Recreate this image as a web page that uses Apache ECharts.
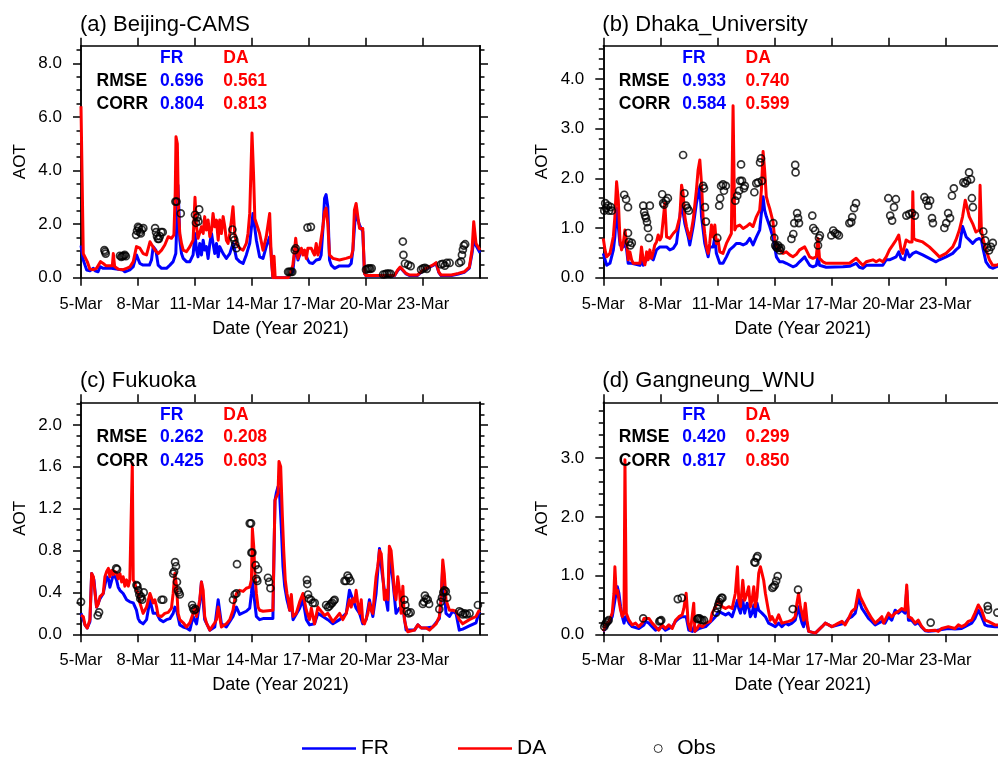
<!DOCTYPE html>
<html>
<head>
<meta charset="utf-8">
<script src="https://cdn.jsdelivr.net/npm/echarts@6/dist/echarts.min.js"></script>
<style>
html, body { margin: 0; padding: 0; background: #fff; }
#chart-container { width: 998px; height: 757px; }
</style>
</head>
<body>
<div id="chart-container"></div>
<script>
// x軸: 5-Mar 00Z 起算的天數
var dateTicks = [0, 3, 6, 9, 12, 15, 18];
var dateLabels = ['5-Mar', '8-Mar', '11-Mar', '14-Mar', '17-Mar', '20-Mar', '23-Mar'];

// 各站標題與統計值
var panelTitles = ['(a) Beijing-CAMS', '(b) Dhaka_University', '(c) Fukuoka', '(d) Gangneung_WNU'];
var rmseFR = ['0.696', '0.933', '0.262', '0.420'];
var rmseDA = ['0.561', '0.740', '0.208', '0.299'];
var corrFR = ['0.804', '0.584', '0.425', '0.817'];
var corrDA = ['0.813', '0.599', '0.603', '0.850'];

// y軸刻度
var yMaxList = [8.66, 4.67, 2.216, 3.95];
var yMajorA = [0, 2, 4, 6, 8];
var yMajorB = [0, 1, 2, 3, 4];
var yMajorC = [0, 0.4, 0.8, 1.2, 1.6, 2.0];
var yMajorD = [0, 1, 2, 3];
var yMinorStep = [0.5, 0.2, 0.1, 0.2];

// (a) Beijing-CAMS  [day, AOT]
var beijingDA = [[0,6.4],[0.12,0.9],[0.21,0.85],[0.33,0.6],[0.47,0.32],[0.65,0.3],[0.82,0.35],[0.91,0.41],[1.03,0.6],[1.17,0.53],[1.31,0.45],[1.52,0.45],[1.65,0.45],[1.7,0.9],[1.77,0.42],[1.96,0.32],[2.22,0.3],[2.4,0.35],[2.57,0.4],[2.75,0.6],[2.92,1.16],[3.1,1.1],[3.27,0.9],[3.45,0.85],[3.63,1.34],[3.71,1.4],[3.89,1.03],[4.06,0.9],[4.24,1.03],[4.41,1.22],[4.59,1.53],[4.76,1.47],[4.89,1.6],[4.96,3.2],[5.0,5.26],[5.07,5.0],[5.13,2.5],[5.2,1.65],[5.29,1.28],[5.38,1.03],[5.55,0.97],[5.73,1.16],[5.9,1.4],[6.0,3.0],[6.08,1.9],[6.16,1.47],[6.25,1.4],[6.34,1.9],[6.43,1.65],[6.51,2.28],[6.6,1.78],[6.69,2.15],[6.78,1.53],[6.87,1.78],[6.95,2.4],[7.04,1.9],[7.13,2.15],[7.22,1.4],[7.3,2.15],[7.39,1.65],[7.48,2.28],[7.57,1.9],[7.65,1.4],[7.74,1.28],[7.83,1.65],[7.92,2.15],[8.0,2.65],[8.09,1.65],[8.18,1.28],[8.35,1.1],[8.53,1.03],[8.7,1.28],[8.79,1.65],[8.88,2.4],[9.0,5.4],[9.08,3.9],[9.15,2.2],[9.4,1.65],[9.58,1.03],[9.75,1.53],[9.93,2.4],[10.02,0.66],[10.1,0],[10.16,0.8],[10.22,0],[10.9,0],[10.98,0.1],[11.15,0.47],[11.24,1.03],[11.3,1.47],[11.42,0.72],[11.5,0.9],[11.6,1.1],[11.68,0.85],[11.77,1.03],[11.86,0.72],[11.94,1.1],[12.03,1.03],[12.12,1.1],[12.2,0.97],[12.29,0.85],[12.38,1.28],[12.47,0.85],[12.56,1.1],[12.64,1.03],[12.73,1.9],[12.82,2.46],[12.9,2.6],[12.99,2.0],[13.08,0.85],[13.17,0.78],[13.26,0.72],[13.6,0.66],[13.95,0.72],[14.22,0.78],[14.31,1.03],[14.39,2.52],[14.48,2.77],[14.57,2.28],[14.66,1.84],[14.74,1.78],[14.83,1.84],[14.92,0.16],[15.0,0.08],[16.5,0.08],[16.67,0.29],[16.8,0.4],[16.94,0.29],[17.11,0.16],[17.3,0.1],[17.7,0.1],[17.9,0.22],[18.16,0.35],[18.51,0.47],[18.69,0.56],[18.83,0.22],[18.95,0.1],[19.5,0.1],[19.86,0.16],[20.17,0.22],[20.44,0.4],[20.58,1.03],[20.67,2.09],[20.79,1.28],[21,1.03]];
var beijingFR = [[0,1.2],[0.12,0.66],[0.21,0.47],[0.3,0.29],[0.47,0.26],[0.56,0.22],[0.65,0.35],[0.74,0.26],[0.9,0.22],[1.0,0.41],[1.17,0.35],[1.6,0.35],[1.7,0.29],[2.2,0.29],[2.31,0.22],[2.57,0.29],[2.75,0.41],[2.92,0.85],[3.1,0.53],[3.27,0.47],[3.6,0.47],[3.71,0.66],[3.8,1.16],[3.94,1.03],[4.06,0.47],[4.24,0.35],[4.5,0.35],[4.68,0.47],[4.85,0.6],[4.99,0.9],[5.05,2.2],[5.1,3.46],[5.15,2.6],[5.2,1.4],[5.29,0.9],[5.38,0.72],[5.55,0.6],[5.73,0.6],[5.9,0.85],[6.0,1.65],[6.08,1.03],[6.16,0.78],[6.25,1.28],[6.34,0.85],[6.43,1.4],[6.51,1.03],[6.6,1.16],[6.69,0.72],[6.78,1.28],[6.87,1.65],[6.95,1.28],[7.04,0.9],[7.13,1.28],[7.22,0.78],[7.3,1.16],[7.48,0.9],[7.65,0.72],[7.83,0.9],[8.0,1.28],[8.09,1.03],[8.18,0.72],[8.35,0.6],[8.53,0.53],[8.7,0.85],[8.88,1.28],[9.05,2.4],[9.14,1.9],[9.23,1.4],[9.4,0.78],[9.58,0.72],[9.75,1.16],[9.93,1.53],[10.02,0.78],[10.1,0],[10.9,0],[10.98,0.1],[11.15,0.22],[11.24,0.9],[11.3,1.15],[11.42,0.66],[11.5,0.6],[11.6,1.03],[11.68,1.1],[11.77,0.97],[11.86,0.9],[11.94,0.66],[12.03,0.56],[12.2,0.53],[12.38,0.66],[12.56,0.69],[12.64,0.85],[12.73,1.78],[12.82,2.96],[12.9,3.1],[12.99,2.65],[13.08,0.66],[13.17,0.47],[13.35,0.35],[13.6,0.44],[14.1,0.44],[14.22,0.53],[14.31,1.03],[14.45,2.46],[14.57,2.15],[14.66,1.96],[14.74,1.96],[14.83,1.72],[14.92,0.16],[15.0,0.07],[16.5,0.07],[16.67,0.27],[16.8,0.37],[16.94,0.27],[17.11,0.14],[17.3,0.08],[17.7,0.08],[17.9,0.2],[18.16,0.33],[18.51,0.45],[18.69,0.53],[18.83,0.2],[18.95,0.08],[19.5,0.08],[19.86,0.14],[20.17,0.2],[20.44,0.36],[20.58,0.9],[20.67,1.4],[20.79,1.2],[21,0.93]];
var beijingObs = [[1.23,1.03],[1.27,0.97],[1.3,0.9],[2.05,0.82],[2.12,0.78],[2.18,0.8],[2.24,0.82],[2.3,0.85],[2.36,0.8],[2.9,1.6],[2.95,1.75],[3.0,1.9],[3.05,1.85],[3.1,1.7],[3.15,1.65],[3.2,1.8],[3.28,1.85],[3.9,1.85],[3.95,1.7],[4.0,1.55],[4.05,1.45],[4.1,1.45],[4.15,1.55],[4.22,1.7],[4.3,1.7],[4.97,2.84],[5.03,2.84],[5.25,2.4],[6.0,2.35],[6.05,2.05],[6.12,2.25],[6.18,2.1],[6.22,2.55],[7.97,1.8],[8.02,1.5],[8.07,1.4],[8.12,1.25],[8.18,1.1],[10.9,0.22],[10.97,0.22],[11.05,0.22],[11.12,0.22],[11.25,1.03],[11.3,1.1],[11.92,1.87],[12.1,1.9],[15.0,0.3],[15.08,0.33],[15.15,0.35],[15.22,0.33],[15.3,0.35],[15.9,0.12],[16.0,0.13],[16.1,0.15],[16.2,0.15],[16.3,0.14],[16.94,1.35],[16.97,0.85],[17.05,0.53],[17.22,0.48],[17.35,0.43],[17.9,0.3],[18.0,0.35],[18.1,0.37],[18.2,0.33],[18.95,0.5],[19.05,0.52],[19.15,0.45],[19.25,0.55],[19.4,0.55],[19.9,0.55],[20.0,0.6],[20.05,0.85],[20.1,1.05],[20.15,1.2],[20.22,1.25]];

// (b) Dhaka_University
var dhakaDA = [[0,0.79],[0.09,0.56],[0.18,0.42],[0.35,0.49],[0.53,0.83],[0.61,1.23],[0.7,1.93],[0.79,1.56],[0.88,0.76],[0.96,0.56],[1.05,0.69],[1.14,0.96],[1.23,0.69],[1.31,0.36],[1.4,0.52],[1.49,0.36],[1.58,0.29],[1.93,0.29],[2.01,0.62],[2.1,0.36],[2.19,0.26],[2.28,0.52],[2.36,0.36],[2.45,0.56],[2.54,0.39],[2.63,0.52],[2.71,0.66],[2.8,0.72],[2.89,0.86],[2.98,0.76],[3.06,0.82],[3.15,0.82],[3.24,1.5],[3.33,0.82],[3.5,0.79],[3.68,0.89],[3.85,0.96],[4.03,1.23],[4.12,1.86],[4.2,1.7],[4.29,1.23],[4.38,1.03],[4.47,0.89],[4.55,0.79],[4.64,0.96],[4.73,1.16],[4.9,1.76],[4.99,2.17],[5.08,2.37],[5.17,1.89],[5.25,1.23],[5.34,0.89],[5.43,0.62],[5.52,0.49],[5.6,0.69],[5.69,1.06],[5.78,0.82],[5.87,1.06],[5.95,0.69],[6.04,0.76],[6.13,0.52],[6.3,0.49],[6.48,0.69],[6.65,0.82],[6.74,0.89],[6.83,3.46],[6.92,0.96],[7.0,1.03],[7.18,1.06],[7.36,0.99],[7.53,1.03],[7.71,1.09],[7.88,1.03],[8.06,1.23],[8.23,1.36],[8.32,1.76],[8.41,2.54],[8.49,2.17],[8.58,1.63],[8.67,1.5],[8.76,1.39],[8.93,1.13],[9.02,0.79],[9.11,0.62],[9.28,0.56],[9.46,0.49],[9.63,0.52],[9.81,0.46],[9.98,0.42],[10.16,0.47],[10.33,0.56],[10.6,0.62],[10.68,0.56],[10.86,0.42],[11.03,0.39],[11.21,0.42],[11.3,0.79],[11.38,0.39],[11.56,0.32],[11.73,0.29],[12.26,0.29],[12.61,0.29],[12.96,0.29],[13.13,0.34],[13.31,0.39],[13.48,0.32],[13.66,0.25],[13.84,0.32],[14.19,0.36],[14.36,0.32],[14.54,0.36],[14.71,0.32],[14.89,0.42],[15.06,0.56],[15.24,0.66],[15.41,0.76],[15.55,0.86],[15.67,0.56],[15.76,0.49],[15.94,0.76],[16.11,0.72],[16.25,0.72],[16.29,1.73],[16.34,0.79],[16.46,0.76],[16.81,0.72],[17.16,0.62],[17.51,0.49],[17.69,0.42],[18.04,0.49],[18.39,0.62],[18.56,0.76],[18.74,0.96],[18.91,1.23],[19.05,1.56],[19.18,1.36],[19.26,1.23],[19.44,1.09],[19.61,0.92],[19.7,0.96],[19.79,0.96],[19.83,1.86],[19.9,0.96],[19.96,0.82],[20.14,0.56],[20.32,0.36],[20.49,0.25],[20.67,0.25],[21,0.3]];
var dhakaFR = [[0,0.49],[0.09,0.36],[0.18,0.25],[0.35,0.29],[0.53,0.56],[0.61,0.83],[0.7,1.4],[0.79,1.03],[0.88,0.66],[1.05,0.62],[1.14,0.76],[1.23,0.56],[1.31,0.29],[1.49,0.29],[1.58,0.25],[1.93,0.25],[2.01,0.49],[2.1,0.25],[2.28,0.36],[2.45,0.42],[2.63,0.36],[2.8,0.56],[2.98,0.62],[3.15,0.62],[3.33,0.62],[3.5,0.56],[3.68,0.59],[3.85,0.69],[4.03,1.23],[4.12,1.53],[4.2,1.5],[4.29,1.09],[4.47,0.82],[4.55,0.66],[4.73,1.03],[4.9,1.5],[5.08,1.83],[5.17,1.23],[5.34,0.69],[5.52,0.42],[5.6,0.62],[5.78,0.62],[5.87,0.82],[5.95,0.49],[6.13,0.29],[6.3,0.29],[6.48,0.42],[6.65,0.56],[6.83,0.62],[7.0,0.69],[7.18,0.69],[7.36,0.66],[7.53,0.69],[7.71,0.79],[7.88,0.66],[8.06,0.82],[8.23,0.96],[8.41,1.63],[8.49,1.36],[8.58,1.23],[8.76,1.03],[8.93,0.82],[9.11,0.42],[9.28,0.32],[9.46,0.32],[9.63,0.29],[9.98,0.22],[10.16,0.25],[10.33,0.32],[10.6,0.42],[10.68,0.36],[10.86,0.25],[11.03,0.22],[11.21,0.25],[11.3,0.42],[11.38,0.25],[11.73,0.21],[12.61,0.22],[12.96,0.23],[13.31,0.29],[13.48,0.21],[13.66,0.19],[13.84,0.25],[14.19,0.25],[14.54,0.25],[14.71,0.25],[14.89,0.36],[15.06,0.36],[15.24,0.39],[15.41,0.42],[15.55,0.52],[15.67,0.39],[15.85,0.36],[15.97,0.56],[16.11,0.42],[16.29,0.49],[16.46,0.52],[16.81,0.46],[17.16,0.39],[17.51,0.32],[17.69,0.36],[18.04,0.42],[18.39,0.49],[18.56,0.56],[18.74,0.62],[18.91,1.03],[19.0,1.0],[19.1,0.82],[19.26,0.76],[19.44,0.69],[19.61,0.76],[19.79,0.79],[19.9,0.76],[20.0,0.56],[20.14,0.32],[20.32,0.22],[20.49,0.19],[20.67,0.22],[21,0.25]];
var dhakaObs = [[0.05,1.35],[0.1,1.5],[0.15,1.4],[0.25,1.45],[0.3,1.35],[0.4,1.42],[0.45,1.35],[1.1,1.67],[1.2,1.58],[1.3,1.42],[1.3,0.9],[1.35,0.72],[1.42,0.65],[1.5,0.7],[2.1,1.45],[2.15,1.32],[2.2,1.25],[2.25,1.2],[2.3,1.12],[2.35,1.0],[2.4,0.8],[2.45,1.45],[3.1,1.68],[3.15,1.5],[3.2,1.47],[3.3,1.55],[3.4,1.6],[4.2,2.47],[4.27,1.7],[4.35,1.45],[4.42,1.4],[4.5,1.35],[5.25,1.85],[5.3,1.8],[5.35,1.42],[5.4,1.13],[6.0,0.8],[6.1,1.45],[6.15,1.6],[6.2,1.85],[6.3,1.88],[6.35,1.75],[6.45,1.85],[6.95,1.55],[7.05,1.65],[7.15,1.75],[7.2,1.95],[7.25,2.28],[7.3,1.95],[7.4,1.8],[7.45,1.85],[7.95,1.72],[8.05,1.9],[8.15,1.92],[8.25,2.32],[8.3,2.4],[8.35,1.95],[8.95,1.1],[9.0,0.8],[9.05,0.65],[9.1,0.62],[9.15,0.6],[9.2,0.65],[9.25,0.6],[9.3,0.55],[9.35,0.6],[9.9,0.78],[10.0,0.88],[10.05,1.1],[10.1,2.27],[10.12,2.12],[10.2,1.3],[10.25,1.2],[10.3,1.1],[11.0,1.25],[11.05,1.0],[11.15,0.95],[11.3,0.65],[11.35,0.8],[11.4,0.85],[12.0,0.85],[12.1,0.95],[12.2,0.9],[12.3,0.88],[12.4,0.85],[12.95,1.1],[13.05,1.12],[13.1,1.22],[13.2,1.4],[13.3,1.5],[15.0,1.6],[15.1,1.25],[15.2,1.15],[15.3,1.42],[15.4,1.58],[15.95,1.25],[16.1,1.28],[16.25,1.3],[16.4,1.25],[16.9,1.62],[17.0,1.55],[17.1,1.45],[17.2,1.55],[17.3,1.2],[17.35,1.1],[17.95,1.0],[18.05,1.1],[18.15,1.3],[18.25,1.2],[18.35,1.65],[18.45,1.8],[18.95,1.92],[19.05,1.9],[19.15,1.95],[19.25,2.12],[19.35,1.98],[19.4,1.6],[19.45,1.42],[20.0,0.93],[20.1,0.75],[20.2,0.6],[20.3,0.55],[20.4,0.62],[20.5,0.7]];

// (c) Fukuoka
var fukuokaDA = [[0,0.18],[0.12,0.17],[0.21,0.09],[0.33,0.06],[0.47,0.14],[0.56,0.58],[0.65,0.55],[0.74,0.39],[0.82,0.26],[0.91,0.29],[1.0,0.36],[1.17,0.39],[1.26,0.55],[1.35,0.6],[1.44,0.63],[1.52,0.55],[1.61,0.61],[1.7,0.57],[1.79,0.6],[1.87,0.58],[1.96,0.53],[2.05,0.58],[2.14,0.5],[2.22,0.55],[2.31,0.46],[2.4,0.52],[2.49,0.46],[2.57,0.52],[2.7,1.63],[2.75,0.52],[2.84,0.49],[2.92,0.42],[3.01,0.39],[3.1,0.3],[3.27,0.2],[3.45,0.26],[3.63,0.39],[3.71,0.39],[3.8,0.3],[3.89,0.33],[3.98,0.26],[4.06,0.18],[4.24,0.17],[4.41,0.2],[4.59,0.21],[4.76,0.25],[4.85,0.39],[4.94,0.58],[5.03,0.46],[5.11,0.2],[5.2,0.14],[5.38,0.11],[5.55,0.07],[5.73,0.11],[5.9,0.2],[5.99,0.25],[6.08,0.17],[6.25,0.33],[6.34,0.5],[6.43,0.42],[6.51,0.17],[6.6,0.11],[6.78,0.04],[6.87,0.025],[7.04,0.11],[7.13,0.14],[7.22,0.26],[7.3,0.17],[7.39,0.07],[7.65,0.1],[7.83,0.14],[8.0,0.23],[8.09,0.33],[8.18,0.39],[8.35,0.42],[8.53,0.41],[8.7,0.44],[8.88,0.45],[8.97,0.52],[9.02,1.01],[9.09,0.84],[9.16,0.55],[9.23,0.39],[9.32,0.26],[9.4,0.23],[9.58,0.22],[10.1,0.23],[10.16,0.8],[10.21,1.28],[10.28,1.28],[10.37,1.35],[10.42,1.65],[10.51,1.6],[10.6,1.12],[10.67,0.8],[10.75,0.52],[10.84,0.39],[10.91,0.33],[10.98,0.23],[11.07,0.38],[11.16,0.17],[11.33,0.2],[11.51,0.31],[11.68,0.39],[11.86,0.23],[12.03,0.14],[12.12,0.25],[12.29,0.1],[12.47,0.26],[12.64,0.22],[12.82,0.18],[12.99,0.2],[13.26,0.12],[13.61,0.2],[13.78,0.14],[13.96,0.2],[14.13,0.33],[14.22,0.26],[14.31,0.34],[14.4,0.31],[14.48,0.42],[14.57,0.29],[14.66,0.2],[14.75,0.33],[14.83,0.12],[14.92,0.1],[15.1,0.2],[15.18,0.3],[15.27,0.23],[15.36,0.2],[15.45,0.39],[15.53,0.55],[15.62,0.65],[15.71,0.8],[15.8,0.77],[15.88,0.58],[15.97,0.33],[16.06,0.42],[16.15,0.33],[16.23,0.84],[16.32,0.8],[16.41,0.61],[16.5,0.39],[16.58,0.33],[16.67,0.55],[16.76,0.42],[16.85,0.2],[16.94,0.46],[17.02,0.14],[17.11,0.07],[17.2,0.025],[17.55,0.04],[17.73,0.09],[17.91,0.06],[18.17,0.06],[18.34,0.04],[18.51,0.07],[18.69,0.1],[18.86,0.17],[18.95,0.33],[19.04,0.71],[19.12,0.58],[19.21,0.33],[19.39,0.23],[19.56,0.23],[19.74,0.22],[19.91,0.14],[20.09,0.1],[20.44,0.14],[20.79,0.17],[20.93,0.22],[21,0.23]];
var fukuokaFR = [[0,0.2],[0.21,0.09],[0.33,0.06],[0.47,0.12],[0.56,0.58],[0.68,0.52],[0.82,0.26],[1.0,0.34],[1.17,0.39],[1.35,0.55],[1.44,0.53],[1.52,0.45],[1.7,0.57],[1.79,0.55],[1.87,0.52],[1.96,0.45],[2.05,0.42],[2.22,0.39],[2.4,0.33],[2.57,0.31],[2.75,0.3],[2.92,0.23],[3.01,0.15],[3.1,0.12],[3.27,0.1],[3.45,0.14],[3.63,0.33],[3.8,0.2],[3.98,0.2],[4.15,0.14],[4.33,0.12],[4.5,0.14],[4.68,0.15],[4.85,0.2],[4.94,0.26],[5.03,0.23],[5.2,0.09],[5.38,0.07],[5.55,0.06],[5.73,0.04],[5.9,0.17],[6.08,0.1],[6.25,0.3],[6.34,0.5],[6.51,0.14],[6.78,0.04],[7.04,0.07],[7.22,0.33],[7.39,0.1],[7.65,0.07],[8.0,0.17],[8.18,0.26],[8.35,0.19],[8.7,0.22],[8.88,0.25],[8.97,0.39],[9.02,0.5],[9.09,0.39],[9.23,0.17],[9.4,0.14],[9.58,0.15],[10.1,0.15],[10.16,0.8],[10.21,1.28],[10.28,1.35],[10.37,1.41],[10.45,1.35],[10.54,1.03],[10.63,0.65],[10.72,0.46],[10.84,0.33],[10.98,0.23],[11.07,0.3],[11.16,0.14],[11.51,0.25],[11.68,0.33],[11.86,0.14],[12.03,0.09],[12.29,0.1],[12.47,0.2],[12.73,0.17],[12.99,0.14],[13.26,0.1],[13.61,0.14],[13.96,0.2],[14.13,0.42],[14.31,0.33],[14.48,0.25],[14.66,0.2],[14.83,0.1],[15.01,0.14],[15.18,0.33],[15.36,0.17],[15.53,0.39],[15.71,0.82],[15.85,0.58],[15.97,0.42],[16.15,0.23],[16.23,0.77],[16.41,0.52],[16.58,0.2],[16.76,0.25],[16.94,0.26],[17.11,0.04],[17.2,0.025],[17.55,0.04],[17.73,0.09],[17.91,0.06],[18.17,0.06],[18.51,0.07],[18.86,0.15],[18.95,0.3],[19.04,0.65],[19.12,0.42],[19.21,0.2],[19.39,0.17],[19.56,0.22],[19.74,0.2],[19.91,0.04],[20.09,0.05],[20.44,0.08],[20.79,0.11],[20.93,0.2],[21,0.21]];
var fukuokaObs = [[0.0,0.31],[0.88,0.18],[0.95,0.21],[1.85,0.63],[1.9,0.62],[2.92,0.47],[2.97,0.46],[3.02,0.42],[3.07,0.38],[3.12,0.34],[3.17,0.36],[3.22,0.33],[3.3,0.4],[4.24,0.33],[4.33,0.33],[4.85,0.58],[4.9,0.6],[4.95,0.69],[5.0,0.65],[5.05,0.5],[5.1,0.42],[5.15,0.4],[5.2,0.38],[5.85,0.28],[5.9,0.25],[5.95,0.23],[6.02,0.24],[8.0,0.33],[8.09,0.38],[8.18,0.39],[8.21,0.67],[8.88,1.06],[8.95,1.06],[8.97,0.78],[9.02,0.78],[9.19,0.66],[9.23,0.53],[9.28,0.51],[9.32,0.62],[9.84,0.54],[9.9,0.5],[9.97,0.44],[11.89,0.52],[11.91,0.48],[11.95,0.38],[12.0,0.34],[12.1,0.33],[12.2,0.3],[12.3,0.3],[12.9,0.28],[13.0,0.26],[13.08,0.27],[13.15,0.29],[13.22,0.3],[13.3,0.32],[13.35,0.33],[13.87,0.51],[13.95,0.51],[14.03,0.56],[14.1,0.54],[14.18,0.51],[17.02,0.33],[17.07,0.28],[17.15,0.22],[17.25,0.2],[17.35,0.21],[17.99,0.29],[18.05,0.31],[18.1,0.37],[18.17,0.34],[18.25,0.33],[18.32,0.29],[18.86,0.24],[18.93,0.31],[19.0,0.35],[19.07,0.4],[19.13,0.42],[19.2,0.41],[19.27,0.35],[19.91,0.22],[20.0,0.21],[20.1,0.19],[20.2,0.2],[20.3,0.19],[20.45,0.2],[20.89,0.28]];

// (d) Gangneung_WNU
var gangneungDA = [[0,0.05],[0.12,0.16],[0.3,0.22],[0.47,0.36],[0.56,0.7],[0.61,1.15],[0.68,0.7],[0.75,0.75],[0.82,0.58],[0.91,0.41],[1.0,0.3],[1.09,0.36],[1.14,2.97],[1.21,0.36],[1.35,0.24],[1.52,0.16],[1.7,0.19],[1.87,0.13],[2.05,0.19],[2.14,0.27],[2.22,0.3],[2.4,0.27],[2.57,0.19],[2.75,0.13],[2.92,0.07],[3.1,0.16],[3.27,0.1],[3.45,0.16],[3.63,0.1],[3.8,0.24],[3.98,0.3],[4.15,0.33],[4.24,0.44],[4.36,0.7],[4.47,0.19],[4.59,0.07],[4.68,0.05],[4.76,0.53],[4.82,0.05],[4.94,0.1],[5.04,0.16],[5.22,0.13],[5.39,0.19],[5.64,0.22],[5.73,0.36],[5.9,0.47],[6.08,0.58],[6.25,0.47],[6.43,0.44],[6.6,0.47],[6.78,0.44],[6.95,0.7],[7.06,1.15],[7.13,0.58],[7.22,0.47],[7.34,0.92],[7.44,0.58],[7.57,0.7],[7.65,0.81],[7.74,0.47],[7.83,0.58],[7.92,0.81],[8.0,0.47],[8.09,0.64],[8.18,1.04],[8.27,1.15],[8.35,1.04],[8.44,0.92],[8.53,0.7],[8.67,0.44],[8.79,0.24],[8.88,0.3],[8.97,0.24],[9.05,0.19],[9.23,0.33],[9.32,0.3],[9.4,0.19],[9.75,0.22],[9.93,0.24],[10.1,0.3],[10.19,0.53],[10.28,0.7],[10.37,0.47],[10.46,0.36],[10.54,0.24],[10.63,0.53],[10.72,0.24],[10.81,0.05],[11.16,0.02],[11.51,0.13],[11.68,0.19],[11.86,0.16],[12.03,0.13],[12.21,0.16],[12.38,0.19],[12.56,0.22],[12.73,0.16],[12.91,0.27],[13.08,0.39],[13.26,0.44],[13.43,0.75],[13.52,0.64],[13.61,0.58],[13.78,0.47],[13.96,0.36],[14.13,0.27],[14.31,0.19],[14.48,0.24],[14.66,0.3],[14.75,0.19],[14.83,0.22],[15.01,0.36],[15.18,0.3],[15.36,0.36],[15.53,0.39],[15.71,0.44],[15.88,0.41],[15.97,0.84],[16.06,0.3],[16.23,0.27],[16.41,0.19],[16.58,0.24],[16.76,0.13],[16.94,0.07],[17.11,0.06],[17.46,0.07],[17.63,0.05],[17.81,0.1],[18.16,0.13],[18.51,0.1],[18.69,0.16],[18.86,0.13],[19.04,0.16],[19.21,0.22],[19.39,0.24],[19.56,0.36],[19.74,0.5],[19.83,0.53],[19.91,0.41],[20.09,0.24],[20.26,0.22],[20.44,0.19],[20.61,0.16],[21,0.16]];
var gangneungFR = [[0,0.05],[0.3,0.19],[0.47,0.3],[0.61,0.58],[0.74,0.81],[0.82,0.7],[0.91,0.47],[1.0,0.3],[1.09,0.19],[1.17,0.3],[1.35,0.19],[1.52,0.13],[1.87,0.1],[2.14,0.16],[2.22,0.22],[2.4,0.19],[2.57,0.13],[2.75,0.07],[3.1,0.13],[3.27,0.07],[3.63,0.13],[3.8,0.22],[3.98,0.27],[4.15,0.3],[4.24,0.33],[4.36,0.3],[4.5,0.07],[4.68,0.05],[4.78,0.13],[4.82,0.05],[5.04,0.1],[5.39,0.13],[5.73,0.24],[5.9,0.3],[6.08,0.39],[6.25,0.36],[6.43,0.33],[6.6,0.36],[6.78,0.3],[6.95,0.47],[7.06,0.58],[7.13,0.44],[7.22,0.36],[7.34,0.58],[7.44,0.36],[7.57,0.53],[7.65,0.47],[7.74,0.3],[7.83,0.36],[7.92,0.5],[8.0,0.3],[8.09,0.53],[8.18,0.41],[8.35,0.36],[8.53,0.3],[8.7,0.19],[8.88,0.16],[9.05,0.13],[9.23,0.19],[9.4,0.13],[9.58,0.19],[9.75,0.16],[9.93,0.19],[10.1,0.24],[10.19,0.36],[10.28,0.47],[10.37,0.3],[10.46,0.19],[10.54,0.13],[10.63,0.3],[10.81,0.05],[11.16,0.02],[11.51,0.13],[11.68,0.19],[11.86,0.16],[12.03,0.13],[12.38,0.16],[12.73,0.19],[12.91,0.27],[13.08,0.3],[13.26,0.36],[13.43,0.61],[13.52,0.53],[13.61,0.44],[13.78,0.36],[13.96,0.27],[14.13,0.22],[14.31,0.16],[14.48,0.19],[14.66,0.22],[14.83,0.19],[15.01,0.3],[15.18,0.24],[15.36,0.41],[15.53,0.36],[15.71,0.41],[15.88,0.36],[15.97,0.75],[16.06,0.24],[16.23,0.24],[16.41,0.17],[16.58,0.2],[16.76,0.12],[16.94,0.06],[17.11,0.05],[17.46,0.06],[17.81,0.08],[18.16,0.1],[18.51,0.09],[18.86,0.1],[19.21,0.16],[19.39,0.19],[19.56,0.27],[19.74,0.41],[19.83,0.44],[19.91,0.3],[20.09,0.16],[20.26,0.14],[20.61,0.13],[21,0.13]];
var gangneungObs = [[0.05,0.13],[0.1,0.17],[0.15,0.2],[0.22,0.22],[0.28,0.24],[2.1,0.27],[2.95,0.22],[3.0,0.23],[3.05,0.24],[3.92,0.6],[4.13,0.62],[4.95,0.26],[5.0,0.27],[5.06,0.27],[5.12,0.25],[5.2,0.24],[5.3,0.24],[5.94,0.37],[6.0,0.44],[6.05,0.5],[6.1,0.55],[6.15,0.59],[6.22,0.62],[6.27,0.62],[7.95,1.23],[8.0,1.22],[8.07,1.3],[8.12,1.33],[8.9,0.79],[8.96,0.81],[9.03,0.84],[9.1,0.91],[9.18,0.99],[9.97,0.43],[10.25,0.76],[17.23,0.2],[20.23,0.48],[20.25,0.42],[20.74,0.37]];

// 面板位置
var panels = [
    { left: 81, top: 45.7, yMajor: yMajorA, fr: beijingFR, da: beijingDA, obs: beijingObs },
    { left: 603.3, top: 45.7, yMajor: yMajorB, fr: dhakaFR, da: dhakaDA, obs: dhakaObs },
    { left: 81, top: 402.3, yMajor: yMajorC, fr: fukuokaFR, da: fukuokaDA, obs: fukuokaObs },
    { left: 603.3, top: 402.3, yMajor: yMajorD, fr: gangneungFR, da: gangneungDA, obs: gangneungObs }
];

var FONT = '"Liberation Sans", Arial, sans-serif';
var BLUE = '#0000ff', RED = '#ff0000';
var lineBlack = { color: '#000', width: 1.5 };

var grids = [], xAxes = [], yAxes = [], series = [], graphics = [];

function minorValues(max, step, majors) {
    var out = [];
    for (var k = 1; k * step <= max + 1e-9; k++) {
        var v = Math.round(k * step * 1000) / 1000;
        var isMajor = majors.some(function (m) { return Math.abs(m - v) < 1e-6; });
        if (!isMajor) out.push(v);
    }
    return out;
}

function yAxisOf(i, pos, major, ticks, len, withLabel) {
    return {
        gridIndex: i, type: 'value', position: pos, min: 0, max: yMaxList[i],
        name: withLabel ? 'AOT' : '', nameLocation: 'middle', nameGap: 52, nameRotate: 90,
        nameTextStyle: { color: '#000', fontSize: 17, fontFamily: FONT },
        axisLine: { show: true, onZero: false, lineStyle: lineBlack },
        axisTick: { show: true, inside: false, length: len, customValues: ticks, lineStyle: lineBlack },
        axisLabel: {
            show: withLabel, customValues: major, margin: 19, color: '#000', fontSize: 17, fontFamily: FONT,
            formatter: function (v) { return v.toFixed(1); }
        },
        splitLine: { show: false }
    };
}

panels.forEach(function (p, i) {
    grids.push({ left: p.left, top: p.top, width: 399, height: 232, containLabel: false, outerBoundsMode: 'none' });

    // x軸 (下方含標籤, 上方只有刻度)
    ['bottom', 'top'].forEach(function (pos) {
        xAxes.push({
            gridIndex: i, type: 'value', position: pos, min: 0, max: 21,
            name: pos === 'bottom' ? 'Date (Year 2021)' : '', nameLocation: 'middle', nameGap: 42,
            nameTextStyle: { color: '#000', fontSize: 18, fontFamily: FONT },
            axisLine: { show: true, onZero: false, lineStyle: lineBlack },
            axisTick: { show: true, length: 8, customValues: dateTicks, lineStyle: lineBlack },
            axisLabel: {
                show: pos === 'bottom', customValues: dateTicks, margin: 18, color: '#000', fontSize: 16.5, fontFamily: FONT,
                formatter: function (v) { return dateLabels[dateTicks.indexOf(Math.round(v))] || ''; }
            },
            splitLine: { show: false }
        });
    });

    // y軸: 左主刻度, 左次刻度, 右主刻度, 右次刻度
    var minors = minorValues(yMaxList[i], yMinorStep[i], p.yMajor);
    yAxes.push(yAxisOf(i, 'left', p.yMajor, p.yMajor, 8, true));
    yAxes.push(yAxisOf(i, 'left', p.yMajor, minors, 4.5, false));
    yAxes.push(yAxisOf(i, 'right', p.yMajor, p.yMajor, 8, false));
    yAxes.push(yAxisOf(i, 'right', p.yMajor, minors, 4.5, false));

    series.push({
        name: 'FR', type: 'line', xAxisIndex: 2 * i, yAxisIndex: 4 * i, data: p.fr,
        symbol: 'none', z: 2, lineStyle: { color: BLUE, width: 3, join: 'round' }, itemStyle: { color: BLUE }
    });
    series.push({
        name: 'DA', type: 'line', xAxisIndex: 2 * i, yAxisIndex: 4 * i, data: p.da,
        symbol: 'none', z: 3, lineStyle: { color: RED, width: 3, join: 'round' }, itemStyle: { color: RED }
    });
    series.push({
        name: 'Obs', type: 'scatter', xAxisIndex: 2 * i, yAxisIndex: 4 * i, data: p.obs,
        symbol: 'circle', symbolSize: 7, z: 4,
        itemStyle: { color: 'rgba(0,0,0,0)', borderColor: '#000', borderWidth: 1.7 }
    });

    // 標題
    graphics.push({
        type: 'text', x: p.left - 1, y: p.top - 21,
        style: { text: panelTitles[i], fill: '#000', font: '22px ' + FONT, align: 'left', verticalAlign: 'middle' }
    });

    // 統計值 (RMSE / CORR)
    var cells = [
        ['FR', 79, 12.6, BLUE], ['DA', 142.3, 12.6, RED],
        ['RMSE', 15.5, 35.3, '#000'], [rmseFR[i], 79, 35.3, BLUE], [rmseDA[i], 142.3, 35.3, RED],
        ['CORR', 15.5, 58.6, '#000'], [corrFR[i], 79, 58.6, BLUE], [corrDA[i], 142.3, 58.6, RED]
    ];
    cells.forEach(function (c) {
        graphics.push({
            type: 'text', x: p.left + c[1], y: p.top + c[2], z: 10,
            style: { text: c[0], fill: c[3], font: 'bold 17.5px ' + FONT, align: 'left', verticalAlign: 'middle' }
        });
    });
});

var legendText = { color: '#000', fontSize: 21, fontFamily: FONT };

var option = {
    animation: false,
    backgroundColor: '#fff',
    grid: grids,
    xAxis: xAxes,
    yAxis: yAxes,
    series: series,
    graphic: graphics,
    legend: [
        { left: 302, top: 738, padding: 0, itemWidth: 54, itemHeight: 2.5, selectedMode: false, textStyle: legendText,
          data: [{ name: 'FR', icon: 'rect', itemStyle: { color: BLUE } }] },
        { left: 458, top: 738, padding: 0, itemWidth: 54, itemHeight: 2.5, selectedMode: false, textStyle: legendText,
          data: [{ name: 'DA', icon: 'rect', itemStyle: { color: RED } }] },
        { left: 653.7, top: 738, padding: 0, itemWidth: 28, itemHeight: 8, selectedMode: false, textStyle: legendText,
          data: [{ name: 'Obs', icon: 'circle', itemStyle: { color: 'rgba(0,0,0,0)', borderColor: '#000', borderWidth: 1 } }] }
    ]
};

var chart = echarts.init(document.getElementById('chart-container'));
chart.setOption(option);

window.addEventListener('resize', function () {
    chart.resize();
});
</script>
</body>
</html>
